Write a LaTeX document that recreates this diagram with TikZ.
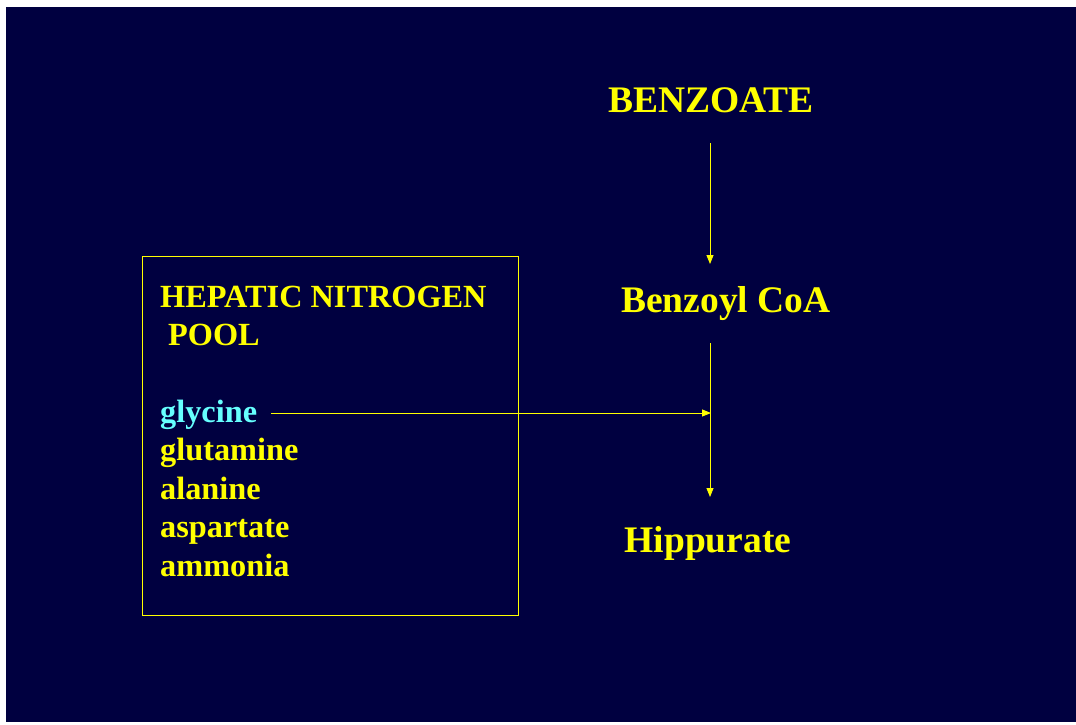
\documentclass[tikz,border=0pt]{standalone}
\usepackage{fontspec}
\setmainfont{Liberation Serif}
\usetikzlibrary{arrows.meta}
\definecolor{navy}{HTML}{000040}
\definecolor{ylw}{HTML}{FFFF00}
\definecolor{cyn}{HTML}{66FFFF}
\tikzset{
  big/.style={text=ylw,font=\fontsize{37.5}{44}\selectfont\bfseries,inner sep=0pt,anchor=base},
  lst/.style={text=ylw,font=\fontsize{32.3}{38}\selectfont\bfseries,inner sep=0pt,anchor=base west},
  arr/.style={draw=ylw,line width=0.9pt,-{Triangle[length=9pt,width=7pt]}},
}
\begin{document}
\begin{tikzpicture}[x=1pt,y=-1pt]
\useasboundingbox (0,0) rectangle (1076,724);
\fill[navy] (6,7) rectangle (1076,722);
% box
\node[draw=ylw,line width=1pt,minimum width=376pt,minimum height=359pt,inner sep=0pt,anchor=north west] (box) at (142,256) {};
% right column
\node[big] (benz) at (711,112) {BENZOATE};
\node[big] (bcoa) at (726,312) {Benzoyl CoA};
\node[big] (hipp) at (708,552) {Hippurate};
% pool
\node[lst] (hep) at (160,307) {HEPATIC NITROGEN};
\node[lst] (pool) at (168,345.5) {POOL};
\node[lst,text=cyn] (gly) at (160,422) {glycine};
\node[lst] (glu) at (160,460.5) {glutamine};
\node[lst] (ala) at (160,499) {alanine};
\node[lst] (asp) at (160,537.5) {aspartate};
\node[lst] (amm) at (160,576) {ammonia};
% connector ends
\coordinate (a1s) at (710,143);
\coordinate (a1e) at (710,264);
\coordinate (a2s) at (710,343);
\coordinate (a2e) at (710,497);
\coordinate (a3s) at (271,413);
\coordinate (a3e) at (711,413);
\draw[arr] (a1s) -- (a1e);
\draw[arr] (a2s) -- (a2e);
\draw[arr] (a3s) -- (a3e);
\end{tikzpicture}
\end{document}
